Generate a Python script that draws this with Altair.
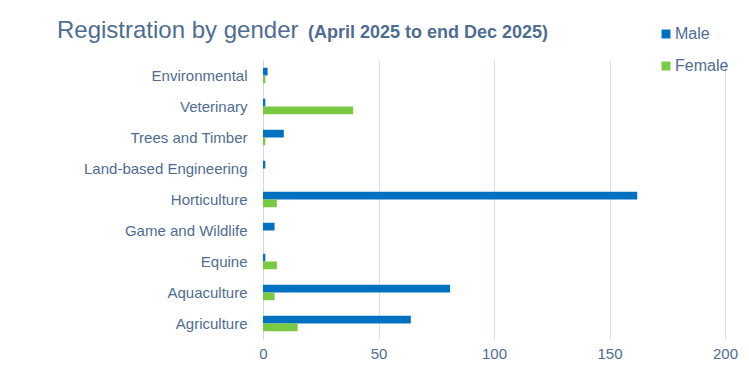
import altair as alt
import pandas as pd

categories = ["Environmental", "Veterinary", "Trees and Timber", "Land-based Engineering",
              "Horticulture", "Game and Wildlife", "Equine", "Aquaculture", "Agriculture"]
male = [2, 1, 9, 1, 162, 5, 1, 81, 64]
female = [1, 39, 1, 0, 6, 0, 6, 5, 15]
genders = ["Male", "Female"]
x_ticks = [0, 50, 100, 150, 200]

rows = []
for c, m, f in zip(categories, male, female):
    rows.append({"category": c, "gender": "Male", "value": m})
    rows.append({"category": c, "gender": "Female", "value": f})
df = pd.DataFrame(rows)

TXT = "#4E6D91"
FONT = "Liberation Sans"

bars = alt.Chart(df).mark_bar().encode(
    y=alt.Y("category:N", sort=categories,
            scale=alt.Scale(paddingInner=0.5, paddingOuter=0.25),
            axis=alt.Axis(title=None, ticks=False, labelPadding=16, labelFontSize=15,
                          labelColor=TXT, labelFont=FONT, domain=True, domainColor="#D0D8E2",
                          labelLimit=300)),
    yOffset=alt.YOffset("gender:N", sort=genders, scale=alt.Scale(paddingInner=0, paddingOuter=0)),
    x=alt.X("value:Q", scale=alt.Scale(domain=[0, 200]),
            axis=alt.Axis(title=None, values=x_ticks, ticks=False, domain=False,
                          grid=True, gridColor="#D6E0EA", labelPadding=7, labelFontSize=15,
                          labelColor=TXT, labelFont=FONT, labelFlush=False)),
    color=alt.Color("gender:N", sort=genders,
                    scale=alt.Scale(domain=genders, range=["#0070C0", "#7AC943"]),
                    legend=alt.Legend(title=None, orient="none", legendX=395, legendY=-34,
                                      symbolType="square", symbolSize=80, labelFontSize=16,
                                      labelColor=TXT, labelFont=FONT, rowPadding=16,
                                      symbolStrokeWidth=0, labelOffset=1)),
)

title_data = alt.Data(values=[{"t": 1}])
title1 = alt.Chart(title_data).mark_text(
    text="Registration by gender", align="left", baseline="alphabetic",
    fontSize=24, font=FONT, color=TXT
).encode(x=alt.value(-206), y=alt.value(-22))
title2 = alt.Chart(title_data).mark_text(
    text="(April 2025 to end Dec 2025)", align="left", baseline="alphabetic",
    fontSize=18, font=FONT, fontWeight="bold", color=TXT
).encode(x=alt.value(45), y=alt.value(-22))

chart = alt.layer(bars, title1, title2).properties(
    width=462, height=279,
    autosize=alt.AutoSizeParams(type="none"),
    padding={"left": 255, "top": 52, "right": 16, "bottom": 22},
    background="white",
).configure_view(stroke=None)

chart.save("out.html", embed_options={"renderer": "svg", "actions": False})
